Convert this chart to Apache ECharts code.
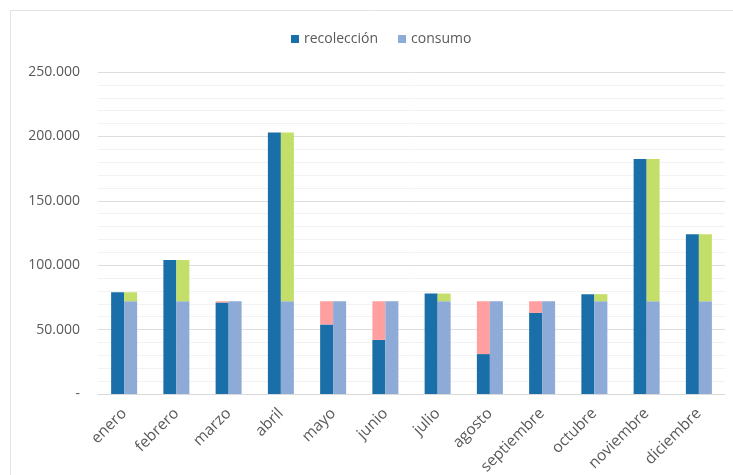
<!DOCTYPE html>
<html><head><meta charset="utf-8">
<script src="https://cdn.jsdelivr.net/npm/echarts@6/dist/echarts.min.js"></script>
<style>html,body{margin:0;padding:0;background:#fff}#c{width:733px;height:475px}</style>
</head><body><div id="c"></div>
<script>
var months = ['enero','febrero','marzo','abril','mayo','junio','julio','agosto','septiembre','octubre','noviembre','diciembre'];
var recoleccion = [79000,104000,71000,203000,54000,42000,78000,31000,63000,77500,182500,124000];
var consumo = [72000,72000,72000,72000,72000,72000,72000,72000,72000,72000,72000,72000];
var yTicks = [0,50000,100000,150000,200000,250000];

var deficit = recoleccion.map(function(r,i){return Math.max(0, consumo[i]-r);});
var excedente = recoleccion.map(function(r,i){return Math.max(0, r-consumo[i]);});

var font = 'Open Sans';
var txt = '#595959';
var chart = echarts.init(document.getElementById('c'));
chart.setOption({
  animation:false,
  graphic:[{type:'rect',shape:{x:10.5,y:10.5,width:740,height:480},style:{fill:'none',stroke:'#e3e3e3',lineWidth:1},silent:true}],
  legend:{
    data:['recolección','consumo'],
    left:286, top:27, itemWidth:8, itemHeight:8, itemGap:20,
    icon:'rect',
    textStyle:{fontFamily:font,fontSize:14,color:txt}
  },
  grid:{left:98,right:8,top:72,bottom:81,containLabel:false,outerBoundsMode:'none'},
  xAxis:{
    type:'category', data:months,
    axisLine:{lineStyle:{color:'#d9d9d9'}},
    axisTick:{show:false},
    axisLabel:{rotate:45,fontFamily:font,fontSize:15.5,color:txt,margin:17}
  },
  yAxis:{
    type:'value', min:0, max:250000, interval:50000,
    axisLine:{show:false}, axisTick:{show:false},
    axisLabel:{fontFamily:font,fontSize:14,color:txt,margin:18,
      formatter:function(v){ if(v===0) return '-'; return (v/1000).toFixed(0)+'.000'; }},
    splitLine:{lineStyle:{color:'#dedede'}},
    minorTick:{show:false,splitNumber:5},
    minorSplitLine:{show:true,lineStyle:{color:'#f2f2f2'}}
  },
  series:[
    {name:'recolección',type:'bar',stack:'a',data:recoleccion,barWidth:13,barGap:'0%',itemStyle:{color:'#1b6fa8'}},
    {name:'déficit',type:'bar',stack:'a',data:deficit,barWidth:13,barGap:'0%',itemStyle:{color:'#ff9f9f'}},
    {name:'consumo',type:'bar',stack:'b',data:consumo,barWidth:13,barGap:'0%',itemStyle:{color:'#8eaad6'}},
    {name:'excedente',type:'bar',stack:'b',data:excedente,barWidth:13,barGap:'0%',itemStyle:{color:'#c3df69'}}
  ]
});
</script></body></html>
